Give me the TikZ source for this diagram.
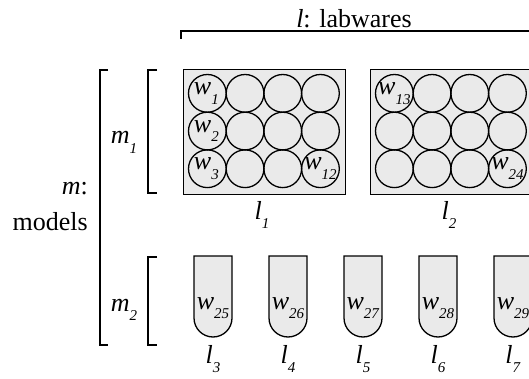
\documentclass[tikz,border=0pt]{standalone}
\usepackage{fontspec}
\setmainfont{Liberation Serif}
\usetikzlibrary{positioning}

\definecolor{wellgray}{RGB}{234,234,234}

% italic letter with a lowered italic index
\newcommand{\idx}[2]{\textit{#1}\raisebox{-0.38em}{\fontsize{15}{15}\selectfont\textit{#2}}}

\tikzset{
  frame/.style={draw, line width=1.3pt},
  plate/.style={frame, fill=wellgray},
  well/.style={circle, draw, line width=1.3pt, minimum size=37.7pt, inner sep=0pt},
  tag/.style={font=\fontsize{26}{36}\selectfont, inner sep=0pt},
}

\begin{document}
\begin{tikzpicture}[x=1pt,y=-1pt]
    \clip (0,0) rectangle (529,379);

    % labware axis
    \node[tag, anchor=base] (labw) at (354,28) {\textit{l}: labwares};
    \coordinate (lw0) at (181,39);
    \coordinate (lw1) at (540,31);
    \draw[frame] (lw0) |- (lw1);

    % model axis
    \node[tag, align=right, anchor=north east] (models) at (88,182) {\textit{m}:\\models};
    \draw[frame] (108,70) -| (100,345) -- (108,345);
    \draw[frame] (157,70) -| (148,193) -- (157,193);
    \draw[frame] (157,257) -| (148,345) -- (157,345);
    \node[tag, anchor=base] (m1) at (124,144) {\idx{m}{1}};
    \node[tag, anchor=base] (m2) at (124,311) {\idx{m}{2}};

    % plates with 3 x 4 wells
    \foreach \p/\px in {1/183, 2/370} {
        \node[plate, anchor=north west, inner sep=0pt,
              minimum width=162pt, minimum height=125pt] (plate\p) at (\px,69) {};
        \foreach \r in {1,2,3}
            \foreach \c in {1,...,4}
                \node[well] (w\p\r\c) at (\px+24.35+37.7*\c-37.7, 93.35+37.7*\r-37.7) {};
        \node[tag, anchor=base] (l\p) at (\px+79,219) {\idx{l}{\p}};
    }
    \node[tag] at ([xshift=-1pt]w111) {\idx{w}{1}};
    \node[tag] at ([xshift=-1pt]w121) {\idx{w}{2}};
    \node[tag] at ([xshift=-1pt]w131) {\idx{w}{3}};
    \node[tag] at (w134) {\idx{w}{12}};
    \node[tag] at (w211) {\idx{w}{13}};
    \node[tag] at (w234) {\idx{w}{24}};

    % tubes
    \foreach \t/\cx in {3/213, 4/288, 5/363, 6/438, 7/513} {
        \pgfmathtruncatemacro{\wn}{\t+22}
        \coordinate (tube\t) at (\cx,256);
        \draw[plate] ([xshift=-19pt]tube\t) -- (\cx-19,318)
            arc[start angle=180, end angle=360, radius=19pt] -- ([xshift=19pt]tube\t) -- cycle;
        \node[tag, anchor=base] (w\wn) at (\cx,309) {\idx{w}{\wn}};
        \node[tag, anchor=base] (l\t) at (\cx,363) {\idx{l}{\t}};
    }
\end{tikzpicture}
\end{document}
